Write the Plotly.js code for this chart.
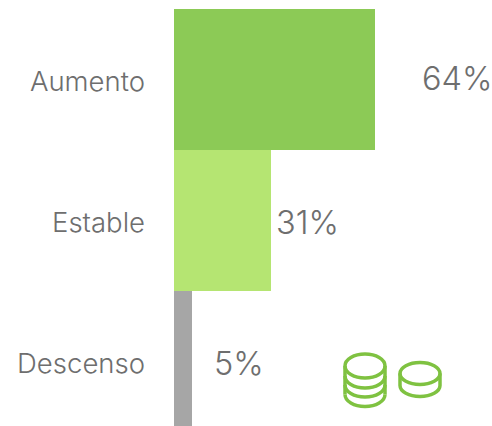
<!DOCTYPE html>
<html>
<head>
<meta charset="utf-8">
<script src="https://cdn.plot.ly/plotly-3.0.1.min.js"></script>
<style>html,body{margin:0;padding:0;background:#fff}</style>
</head>
<body>
<div id="chart" style="width:492px;height:426px"></div>
<script>
var categories = ["Aumento", "Estable", "Descenso"];
var barLengths = [64, 31, 5.7];
var valueLabels = ["64%", "31%", "5%"];
var barColors = ["#8cca56", "#b5e572", "#a6a6a6"];
var labelOffsets = [45, 3, 20];
var labelShifts = [-1, 2, 2];

var coinSvg = '<svg xmlns="http://www.w3.org/2000/svg" width="125" height="80" viewBox="0 0 125 80">' +
  '<g fill="none" stroke="#7fc241" stroke-width="3.5">' +
  '<ellipse cx="35" cy="26" rx="20" ry="12"/>' +
  '<path d="M15 26V54.500M55 26V54.500"/>' +
  '<path d="M15 36A20 12 0 0 0 55 36M15 45A20 12 0 0 0 55 45M15 54.500A20 12 0 0 0 55 54.500"/>' +
  '<ellipse cx="90" cy="33.500" rx="20" ry="11"/>' +
  '<path d="M70 33.500V45.500M110 33.500V45.500M70 45.500A20 11 0 0 0 110 45.500"/>' +
  '</g></svg>';

var labelFont = {family: "Inter, sans-serif", size: 32.5, color: "#6e6e6e", weight: 300};

Plotly.newPlot("chart", [{
  type: "bar",
  orientation: "h",
  y: categories,
  x: barLengths,
  marker: {color: barColors, line: {width: 0}},
  hoverinfo: "none"
}], {
  width: 492,
  height: 426,
  margin: {l: 174, r: 0, t: 9, b: 0, pad: 0},
  paper_bgcolor: "#ffffff",
  plot_bgcolor: "#ffffff",
  bargap: 0,
  showlegend: false,
  xaxis: {range: [0, 101.3], visible: false, fixedrange: true},
  yaxis: {
    type: "category",
    range: [2.457, -0.5],
    showgrid: false,
    zeroline: false,
    showline: false,
    ticks: "",
    ticklabelstandoff: 28,
    ticklabelshift: -2,
    tickfont: {family: "Inter, sans-serif", size: 27.5, color: "#6e6e6e", weight: 300},
    fixedrange: true
  },
  annotations: categories.map(function (c, i) {
    return {
      x: barLengths[i],
      y: c,
      xref: "x",
      yref: "y",
      text: valueLabels[i],
      showarrow: false,
      xanchor: "left",
      yanchor: "middle",
      xshift: labelOffsets[i],
      yshift: -labelShifts[i],
      font: labelFont
    };
  }),
  images: [{
    source: "data:image/svg+xml;charset=utf-8," + encodeURIComponent(coinSvg),
    xref: "paper",
    yref: "paper",
    x: (330 - 174) / 318,
    y: (426 - 340) / 417,
    sizex: 125 / 318,
    sizey: 80 / 417,
    sizing: "stretch",
    xanchor: "left",
    yanchor: "top",
    layer: "above"
  }]
}, {displayModeBar: false, staticPlot: true});
</script>
</body>
</html>
